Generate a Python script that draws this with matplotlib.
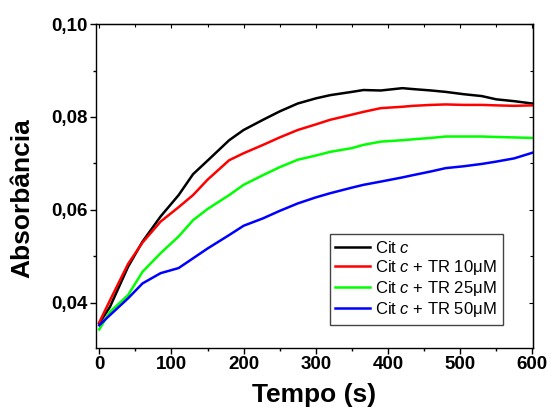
import matplotlib
matplotlib.use("Agg")
import matplotlib.pyplot as plt
from matplotlib.ticker import MultipleLocator, FuncFormatter

FONT = ["Liberation Sans", "DejaVu Sans"]
plt.rcParams["font.family"] = FONT
plt.rcParams["mathtext.fontset"] = "custom"
plt.rcParams["mathtext.it"] = "Liberation Sans:italic"
plt.rcParams["mathtext.rm"] = "Liberation Sans"

# tempo (s)
t = [0, 15, 40, 60, 85, 110, 130, 150, 180, 200, 227, 250, 275, 300, 320,
     350, 366, 390, 420, 435, 460, 480, 505, 530, 550, 575, 600]

cit_c = [0.0356, 0.0392, 0.0478, 0.0532, 0.0586, 0.0632, 0.0677, 0.0706,
         0.0750, 0.0772, 0.0794, 0.0812, 0.0829, 0.0840, 0.0847, 0.0854,
         0.0858, 0.0857, 0.0862, 0.0860, 0.0857, 0.0854, 0.0849, 0.0845,
         0.0838, 0.0834, 0.0829]
tr10 = [0.0358, 0.0406, 0.0484, 0.0530, 0.0575, 0.0606, 0.0632, 0.0665,
        0.0707, 0.0722, 0.0740, 0.0756, 0.0772, 0.0784, 0.0794, 0.0805,
        0.0811, 0.0819, 0.0822, 0.0824, 0.0826, 0.0827, 0.0826, 0.0826,
        0.0825, 0.0824, 0.0825]
tr25 = [0.0343, 0.0381, 0.0417, 0.0467, 0.0507, 0.0543, 0.0578, 0.0602,
        0.0632, 0.0654, 0.0675, 0.0692, 0.0708, 0.0717, 0.0725, 0.0733,
        0.0740, 0.0747, 0.0750, 0.0752, 0.0755, 0.0758, 0.0758, 0.0758,
        0.0757, 0.0756, 0.0755]
tr50 = [0.0352, 0.0374, 0.0410, 0.0442, 0.0464, 0.0475, 0.0496, 0.0517,
        0.0546, 0.0566, 0.0582, 0.0598, 0.0614, 0.0627, 0.0636, 0.0648,
        0.0654, 0.0661, 0.0670, 0.0675, 0.0683, 0.0690, 0.0694, 0.0699,
        0.0704, 0.0711, 0.0723]

series = [
    (cit_c, "#000000", "Cit $c$"),
    (tr10, "#ff0000", "Cit $c$ + TR 10μM"),
    (tr25, "#00ff00", "Cit $c$ + TR 25μM"),
    (tr50, "#0000ff", "Cit $c$ + TR 50μM"),
]

fig = plt.figure(figsize=(5.52, 4.12), dpi=100)
ax = fig.add_axes([0.1739, 0.1553, 0.7917, 0.7864])

for y, c, lab in series:
    ax.plot(t, y, color=c, linewidth=1.8, label=lab)

ax.set_xlim(-4.5, 601)
ax.set_ylim(0.0303, 0.10)
ax.xaxis.set_major_locator(MultipleLocator(100))
ax.xaxis.set_minor_locator(MultipleLocator(50))
ax.yaxis.set_major_locator(MultipleLocator(0.02))
ax.yaxis.set_minor_locator(MultipleLocator(0.01))
ax.yaxis.set_major_formatter(FuncFormatter(lambda v, p: f"{v:.2f}".replace(".", ",")))

for s in ax.spines.values():
    s.set_linewidth(1.0)
ax.tick_params(which="both", direction="out", top=False, right=False,
               labelsize=13.5, pad=2)
ax.tick_params(which="major", length=4, width=1)
ax.tick_params(which="minor", length=2.5, width=1)
for lbl in ax.get_xticklabels() + ax.get_yticklabels():
    lbl.set_fontweight("bold")

# mirrored inward ticks on top and right, no labels
top = ax.secondary_xaxis("top")
top.xaxis.set_major_locator(MultipleLocator(100))
top.xaxis.set_minor_locator(MultipleLocator(50))
top.tick_params(which="both", direction="in", labeltop=False, width=0.8)
top.tick_params(which="major", length=3)
top.tick_params(which="minor", length=2)
right = ax.secondary_yaxis("right")
right.yaxis.set_major_locator(MultipleLocator(0.02))
right.yaxis.set_minor_locator(MultipleLocator(0.01))
right.tick_params(which="both", direction="in", labelright=False, width=0.8)
right.tick_params(which="major", length=3)
right.tick_params(which="minor", length=2)

ax.set_xlabel("Tempo (s)", fontsize=19, fontweight="bold", labelpad=7)
ax.set_ylabel("Absorbância", fontsize=19, fontweight="bold")
ax.yaxis.set_label_coords(-0.14, 0.463)

leg = ax.legend(loc="lower right", bbox_to_anchor=(0.931, 0.071),
                borderaxespad=0, fontsize=12, handlelength=2.1,
                handletextpad=0.3, labelspacing=0.12, borderpad=0.35,
                fancybox=False, framealpha=1, edgecolor="#444444")
leg.get_frame().set_linewidth(1.0)

fig.savefig("out.png", dpi=100)
